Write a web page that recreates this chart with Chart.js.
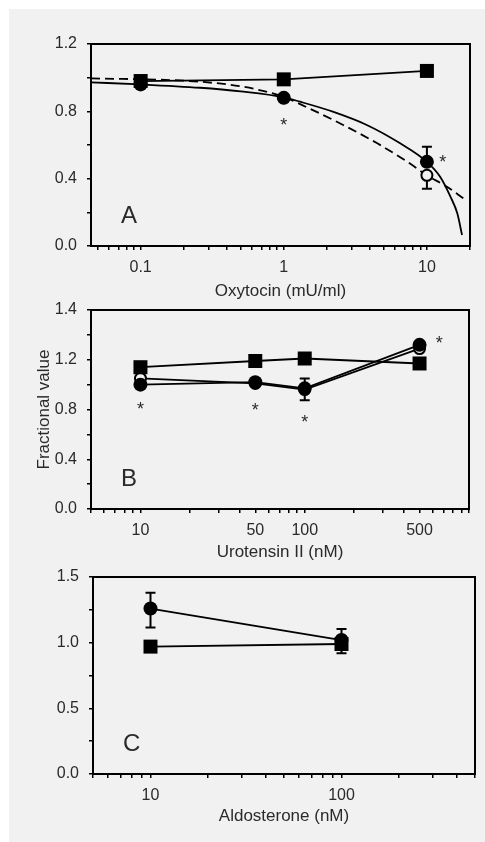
<!DOCTYPE html>
<html>
<head>
<meta charset="utf-8">
<script src="https://cdn.jsdelivr.net/npm/chart.js@4.4.1/dist/chart.umd.min.js"></script>
<style>
  html, body { margin: 0; padding: 0; background: #fff; }
  #sheet { position: absolute; left: 9px; top: 9px; width: 476px; height: 833px; background: #f1f1f1; }
  canvas { position: absolute; left: 0; top: 0; }
</style>
</head>
<body>
<div id="sheet"></div>
<canvas id="panelA" width="485" height="842"></canvas>
<canvas id="panelB" width="485" height="842"></canvas>
<canvas id="panelC" width="485" height="842"></canvas>
<script>
// ---- Panel A: oxytocin ----
const oxyDose = [0.1, 1, 10];
const oxySquares = [0.98, 0.99, 1.04];
const oxyFilled = [0.96, 0.88, 0.50];
const oxyOpen = [0.98, 0.88, 0.42];
const oxyFilledErrHi = [null, null, 0.59];
const oxyOpenErrLo = [null, null, 0.34];
const oxyFitSolidX = [0.045, 0.1, 0.26, 0.5, 1, 1.3, 2.2, 3.8, 6.5, 10, 12.4, 14.6, 16.3, 17.6];
const oxyFitSolidY = [0.972, 0.96, 0.94, 0.918, 0.883, 0.857, 0.798, 0.719, 0.61, 0.50, 0.41, 0.293, 0.194, 0.065];
const oxyFitDashX = [0.045, 0.2, 0.42, 0.65, 1, 1.5, 2.6, 4.5, 7.3, 10, 13.8, 18];
const oxyFitDashY = [0.996, 0.982, 0.958, 0.93, 0.885, 0.818, 0.719, 0.61, 0.50, 0.42, 0.352, 0.283];
const oxyStarX = [1, 12.9];
const oxyStarY = [0.74, 0.52];
const oxyXLabels = [0.1, 1, 10];
const oxyYTicks = [0, 0.2, 0.4, 0.6, 0.8, 1.0, 1.2];
const oxyYLabels = ["0.0", "", "0.4", "", "0.8", "", "1.2"];

// ---- Panel B: urotensin II ----
const uroDose = [10, 50, 100, 500];
const uroSquares = [1.14, 1.19, 1.21, 1.17];
const uroFilled = [1.00, 1.02, 0.97, 1.32];
const uroOpen = [1.05, 1.01, 0.96, 1.29];
const uroFilledErrHi = [null, null, 1.05, null];
const uroFilledErrLo = [null, null, 0.875, null];
const uroStarX = [10, 50, 100, 660];
const uroStarY = [0.84, 0.83, 0.73, 1.37];
const uroXLabels = [10, 50, 100, 500];
const uroYTicks = [0, 0.2, 0.4, 0.6, 0.8, 1.0, 1.2, 1.4, 1.6];
const uroYLabels = ["0.0", "", "0.4", "", "0.8", "", "1.2", "", "1.4"];

// ---- Panel C: aldosterone ----
const aldoDose = [10, 100];
const aldoSquares = [0.97, 0.99];
const aldoFilled = [1.26, 1.02];
const aldoErrHi = [1.38, 1.105];
const aldoErrLo = [1.115, 0.92];
const aldoXLabels = [10, 100];
const aldoYTicks = [0, 0.25, 0.5, 0.75, 1.0, 1.25, 1.5];
const aldoYLabels = ["0.0", "", "0.5", "", "1.0", "", "1.5"];

Chart.defaults.font.family = '"Liberation Sans", Arial, sans-serif';
Chart.defaults.font.size = 16;
Chart.defaults.color = "#2a2a2a";

const BG = "#f1f1f1";

const pts = (xs, ys) => xs.map((x, i) => ({ x, y: ys[i] }));

const logTicks = (min, max) => {
  const out = [];
  for (let e = Math.floor(Math.log10(min)); e <= Math.ceil(Math.log10(max)); e++) {
    for (let m = 1; m <= 9; m++) {
      const v = +(m * Math.pow(10, e)).toPrecision(6);
      if (v >= min - 1e-9 && v <= max + 1e-9) out.push(v);
    }
  }
  return out;
};

const squares = (xs, ys, line = true) => ({
  data: pts(xs, ys), showLine: line, borderColor: "#000", borderWidth: 1.8,
  pointStyle: "rect", pointRadius: 9.9, pointBackgroundColor: "#000", pointBorderWidth: 0
});
const filled = (xs, ys, line = true) => ({
  data: pts(xs, ys), showLine: line, borderColor: "#000", borderWidth: 1.8,
  pointStyle: "circle", pointRadius: 7, pointBackgroundColor: "#000", pointBorderWidth: 0
});
const open = (xs, ys, line = true) => ({
  data: pts(xs, ys), showLine: line, borderColor: "#000", borderWidth: 1.8,
  pointStyle: "circle", pointRadius: 5.5, pointBackgroundColor: BG,
  pointBorderColor: "#000", pointBorderWidth: 2
});
const curve = (xs, ys, dash = []) => ({
  data: pts(xs, ys), showLine: true, borderColor: "#000", borderWidth: 1.8,
  borderDash: dash, pointRadius: 0, cubicInterpolationMode: "monotone"
});

// box, error bars, asterisks, panel letter
const extras = (p) => ({
  id: "extras",
  beforeDatasetsDraw(chart) {
    const { ctx, scales: { x, y } } = chart;
    ctx.save();
    ctx.strokeStyle = "#000";
    ctx.lineWidth = 2;
    (p.errors || []).forEach((e) => {
      e.x.forEach((xv, i) => {
        const px = x.getPixelForValue(xv);
        const py = y.getPixelForValue(e.y[i]);
        [e.hi && e.hi[i], e.lo && e.lo[i]].forEach((b) => {
          if (b == null) return;
          const pb = y.getPixelForValue(b);
          ctx.beginPath();
          ctx.moveTo(px, py); ctx.lineTo(px, pb);
          ctx.moveTo(px - 5, pb); ctx.lineTo(px + 5, pb);
          ctx.stroke();
        });
      });
    });
    ctx.restore();
  },
  afterDatasetsDraw(chart) {
    const { ctx, chartArea: a, scales: { x, y } } = chart;
    ctx.save();
    ctx.strokeStyle = "#000";
    ctx.lineWidth = 2;
    ctx.strokeRect(a.left, a.top, a.right - a.left, a.bottom - a.top);
    ctx.fillStyle = "#2a2a2a";
    ctx.textAlign = "center";
    ctx.textBaseline = "alphabetic";
    ctx.font = '18px "Liberation Sans", Arial, sans-serif';
    (p.starX || []).forEach((sx, i) => {
      ctx.fillText("*", x.getPixelForValue(sx), y.getPixelForValue(p.starY[i]) + 10);
    });
    ctx.textAlign = "left";
    ctx.font = '24px "Liberation Sans", Arial, sans-serif';
    ctx.fillText(p.letter, a.left + 30, a.bottom - 23);
    ctx.restore();
  }
});

const makePanel = (id, p) => {
  const isLabel = (v) => p.xLabels.some((l) => Math.abs(l - v) < 1e-9 * Math.max(1, l));
  return new Chart(document.getElementById(id), {
    type: "scatter",
    data: { datasets: p.datasets },
    options: {
      responsive: false,
      animation: false,
      events: [],
      layout: { padding: p.padding },
      plugins: { legend: { display: false }, tooltip: { enabled: false } },
      scales: {
        x: {
          type: "logarithmic",
          min: p.xMin, max: p.xMax,
          afterBuildTicks: (s) => { s.ticks = logTicks(p.xMin, p.xMax).map((v) => ({ value: v })); },
          afterFit: (s) => { s.height = p.xHeight; },
          grid: { drawOnChartArea: false, drawTicks: true, tickLength: 4, color: "#000", lineWidth: 1.5 },
          border: { display: false },
          ticks: { autoSkip: false, maxRotation: 0, padding: 8, callback: (v) => (isLabel(v) ? String(v) : "") },
          title: { display: true, text: p.xTitle, font: { size: 17 }, padding: 0 }
        },
        y: {
          min: p.yTicks[0], max: p.yTicks[p.yTicks.length - 1],
          afterBuildTicks: (s) => { s.ticks = p.yTicks.map((v) => ({ value: v })); },
          afterFit: (s) => { s.width = p.yWidth; },
          grid: { drawOnChartArea: false, drawTicks: true, tickLength: 4, color: "#000", lineWidth: 1.5 },
          border: { display: false },
          ticks: { autoSkip: false, padding: 10, callback: (v, i) => p.yLabels[i] },
          title: { display: !!p.yTitle, text: p.yTitle || "", font: { size: 17 }, padding: { top: 34 } }
        }
      }
    },
    plugins: [extras(p)]
  });
};

makePanel("panelA", {
  xMin: 0.045, xMax: 20, xLabels: oxyXLabels, xTitle: "Oxytocin (mU/ml)",
  yTicks: oxyYTicks, yLabels: oxyYLabels,
  padding: { left: 0, top: 44, right: 15, bottom: 842 - 246 - 56 },
  xHeight: 56, yWidth: 91, letter: "A",
  datasets: [
    squares(oxyDose, oxySquares),
    filled(oxyDose, oxyFilled, false),
    open(oxyDose, oxyOpen, false),
    curve(oxyFitSolidX, oxyFitSolidY),
    curve(oxyFitDashX, oxyFitDashY, [9, 5])
  ],
  errors: [
    { x: oxyDose, y: oxyFilled, hi: oxyFilledErrHi },
    { x: oxyDose, y: oxyOpen, lo: oxyOpenErrLo }
  ],
  starX: oxyStarX, starY: oxyStarY
});

makePanel("panelB", {
  xMin: 5, xMax: 1000, xLabels: uroXLabels, xTitle: "Urotensin II (nM)",
  yTicks: uroYTicks, yLabels: uroYLabels, yTitle: "Fractional value",
  padding: { left: 0, top: 310, right: 16, bottom: 842 - 509 - 54 },
  xHeight: 54, yWidth: 91, letter: "B",
  datasets: [
    squares(uroDose, uroSquares),
    filled(uroDose, uroFilled),
    open(uroDose, uroOpen)
  ],
  errors: [{ x: uroDose, y: uroFilled, hi: uroFilledErrHi, lo: uroFilledErrLo }],
  starX: uroStarX, starY: uroStarY
});

makePanel("panelC", {
  xMin: 5, xMax: 500, xLabels: aldoXLabels, xTitle: "Aldosterone (nM)",
  yTicks: aldoYTicks, yLabels: aldoYLabels,
  padding: { left: 2, top: 577, right: 10, bottom: 842 - 774 - 53 },
  xHeight: 53, yWidth: 91, letter: "C",
  datasets: [
    filled(aldoDose, aldoFilled),
    squares(aldoDose, aldoSquares)
  ],
  errors: [{ x: aldoDose, y: aldoFilled, hi: aldoErrHi, lo: aldoErrLo }]
});
</script>
</body>
</html>
